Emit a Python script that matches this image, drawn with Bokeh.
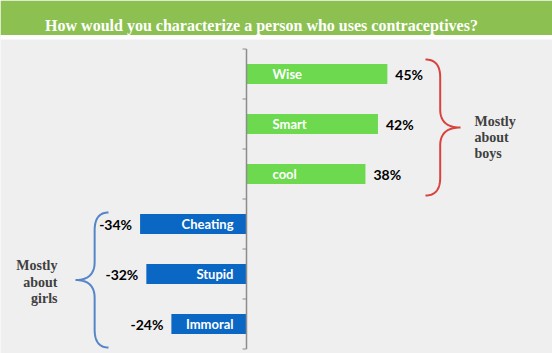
import numpy as np
from bokeh.plotting import figure
from bokeh.models import Range1d
from bokeh.core.properties import value
from bokeh.embed import file_html
from bokeh.resources import INLINE

# ---- data ----
categories = ["Wise", "Smart", "cool", "Cheating", "Stupid", "Immoral"]
values = [45, 42, 38, -34, -32, -24]
value_labels = ["45%", "42%", "38%", "-34%", "-32%", "-24%"]
title_text = "How  would you characterize a person who uses contraceptives?"
boys_note = ["Mostly", "about", "boys"]
girls_note = ["Mostly", "about", "girls"]

# ---- layout constants (pixels) ----
W, H = 552, 353
SX = 3.13        # px per percent
X0 = 246         # px position of zero
SY = 50          # px per category
Y0 = 73.5        # px center of first category

def px(xp):
    return (xp - X0) / SX

def py(yp):
    return (yp - Y0) / SY

p = figure(width=W, height=H, output_backend="svg", toolbar_location=None,
           x_range=Range1d(px(0), px(W)), y_range=Range1d(py(H), py(0)),
           x_axis_type=None, y_axis_type=None, min_border=0)
p.xgrid.visible = False
p.ygrid.visible = False
p.outline_line_color = None
p.background_fill_color = "#efefef"
p.border_fill_color = "#efefef"

# title bar
p.quad(left=px(0), right=px(W), top=py(0), bottom=py(34.5), color="#8cc152", line_color=None)
p.quad(left=px(0), right=px(W), top=py(34.5), bottom=py(39), color="#ffffff", line_color=None)
p.text(x=[px(263)], y=[py(25)], text=[title_text], text_color="#ffffff",
       text_font=value("Liberation Serif"), text_font_style="bold",
       text_font_size="16px", text_align="center", text_baseline="alphabetic")

idx = list(range(len(categories)))
colors = ["#6dd94f" if v > 0 else "#0b67c4" for v in values]

# bars
p.hbar(y=idx, left=0, right=values, height=0.4, color=colors, line_color=None)

# axis line and ticks
p.segment(x0=[0], y0=[-0.5], x1=[0], y1=[len(categories) - 0.5], line_color="#8c8c8c", line_width=1.5)
bounds = [i - 0.5 for i in range(len(categories) + 1)]
p.segment(x0=[px(242)] * len(bounds), y0=bounds, x1=[0] * len(bounds), y1=bounds,
          line_color="#8c8c8c", line_width=1)

# category labels inside bars
pos = [i for i, v in enumerate(values) if v > 0]
neg = [i for i, v in enumerate(values) if v < 0]
p.text(x=[px(272)] * len(pos), y=pos, text=[categories[i] for i in pos], text_color="#ffffff",
       text_font=value("Lato"), text_font_style="bold", text_font_size="13px",
       text_align="left", text_baseline="middle")
p.text(x=[px(233)] * len(neg), y=neg, text=[categories[i] for i in neg], text_color="#ffffff",
       text_font=value("Lato"), text_font_style="bold", text_font_size="13px",
       text_align="right", text_baseline="middle")

# value labels
gap = 8 / SX
p.text(x=[values[i] + gap for i in pos], y=pos, text=[value_labels[i] for i in pos],
       text_color="#000000", text_font=value("Lato"), text_font_style="bold",
       text_font_size="14px", text_align="left", text_baseline="middle")
p.text(x=[values[i] - gap for i in neg], y=neg, text=[value_labels[i] for i in neg],
       text_color="#000000", text_font=value("Lato"), text_font_style="bold",
       text_font_size="14px", text_align="right", text_baseline="middle")

# braces
def brace(xe, xp_, yt, yb, r=18):
    ym = (yt + yb) / 2
    xs = xe + 0.42 * (xp_ - xe)
    t = np.linspace(0, 1, 20)
    def quad(p0, c, p1):
        return ((1 - t) ** 2 * p0[0] + 2 * (1 - t) * t * c[0] + t ** 2 * p1[0],
                (1 - t) ** 2 * p0[1] + 2 * (1 - t) * t * c[1] + t ** 2 * p1[1])
    a = quad((xe, yt), (xs, yt), (xs, yt + r))
    b = quad((xs, ym - r), (xs, ym), (xp_, ym))
    c = quad((xp_, ym), (xs, ym), (xs, ym + r))
    d = quad((xs, yb - r), (xs, yb), (xe, yb))
    xs_all = np.concatenate([a[0], b[0], c[0], d[0]])
    ys_all = np.concatenate([a[1], b[1], c[1], d[1]])
    return [px(v) for v in xs_all], [py(v) for v in ys_all]

bx, by = brace(425, 460, 59, 195)
p.line(bx, by, line_color="#d9433f", line_width=2)
gx, gy = brace(108, 75, 212, 347)
p.line(gx, gy, line_color="#5585c6", line_width=2)

# side notes
p.text(x=[px(474)] * 3, y=[py(v) for v in (121, 137, 153)], text=boys_note,
       text_color="#404040", text_font=value("Liberation Serif"), text_font_style="bold",
       text_font_size="14px", text_align="left", text_baseline="alphabetic")
p.text(x=[px(57)] * 3, y=[py(v) for v in (265, 281.5, 298)], text=girls_note,
       text_color="#404040", text_font=value("Liberation Serif"), text_font_style="bold",
       text_font_size="14px", text_align="right", text_baseline="alphabetic")

open("out.html", "w").write(file_html(p, INLINE))
